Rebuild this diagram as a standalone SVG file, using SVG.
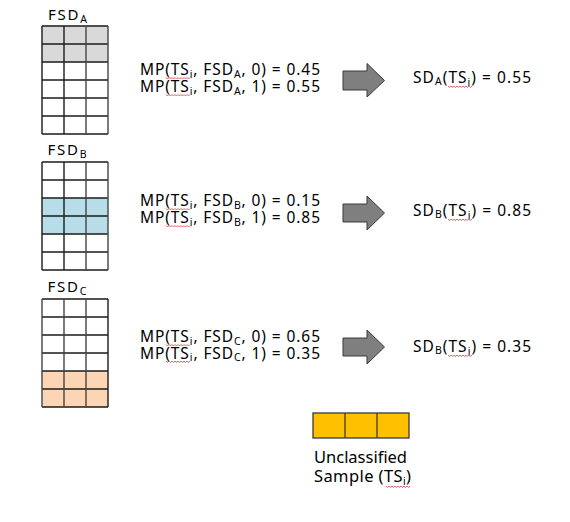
<svg xmlns="http://www.w3.org/2000/svg" width="570" height="522" viewBox="0 0 570 522">
<style>
text{font-family:"Noto Sans","Liberation Sans",sans-serif;fill:#000}
.mp{font-size:15.5px}
.lab{font-size:15px}
.big{font-size:16.5px}
.sub{font-size:10.5px}
.cell{stroke:#1a1a1a;stroke-width:1.4}
.vl{stroke:#444;stroke-width:1.4}
.arrow{fill:#7f7f7f;stroke:#3a3a3a;stroke-width:1}
.sq{fill:none;stroke:#e03a3a;stroke-width:0.8}
</style>
<defs>
<path id="wave" d="M0,0 l1.5,1.5 l1.5,-1.5 l1.5,1.5 l1.5,-1.5 l1.5,1.5 l1.5,-1.5 l1.5,1.5 l1.5,-1.5 l1.5,1.5 l1.5,-1.5 l1.5,1.5 l1.5,-1.5 l1.5,1.5 l1.5,-1.5 l1.5,1.5 l1.5,-1.5"/>
</defs>
<rect width="570" height="522" fill="#fff"/>

<g id="fsd-a">
<text class="lab" x="48" y="19.5" textLength="39">FSD<tspan class="sub" dy="3">A</tspan></text>
<rect x="42" y="26" width="66" height="36" fill="#d9d9d9"/>
<g class="cell">
<line x1="42" y1="26" x2="108" y2="26"/><line x1="42" y1="44" x2="108" y2="44"/><line x1="42" y1="62" x2="108" y2="62"/><line x1="42" y1="80" x2="108" y2="80"/><line x1="42" y1="98" x2="108" y2="98"/><line x1="42" y1="116" x2="108" y2="116"/><line x1="42" y1="134" x2="108" y2="134"/>
<line x1="42" y1="26" x2="42" y2="134"/><line x1="64" y1="26" x2="64" y2="134"/>
</g>
<g class="vl"><line x1="86" y1="26" x2="86" y2="134"/><line x1="108" y1="26" x2="108" y2="134"/></g>
</g>

<g id="fsd-b">
<text class="lab" x="47.5" y="155" textLength="39">FSD<tspan class="sub" dy="3">B</tspan></text>
<rect x="42" y="198" width="66" height="36" fill="#b7dde8"/>
<g class="cell">
<line x1="42" y1="162" x2="108" y2="162"/><line x1="42" y1="180" x2="108" y2="180"/><line x1="42" y1="198" x2="108" y2="198"/><line x1="42" y1="216" x2="108" y2="216"/><line x1="42" y1="234" x2="108" y2="234"/><line x1="42" y1="252" x2="108" y2="252"/><line x1="42" y1="270" x2="108" y2="270"/>
<line x1="42" y1="162" x2="42" y2="270"/><line x1="64" y1="162" x2="64" y2="270"/>
</g>
<g class="vl"><line x1="86" y1="162" x2="86" y2="270"/><line x1="108" y1="162" x2="108" y2="270"/></g>
</g>

<g id="fsd-c">
<text class="lab" x="47.5" y="292" textLength="39">FSD<tspan class="sub" dy="3">C</tspan></text>
<rect x="42" y="371" width="66" height="36" fill="#fcd5b5"/>
<g class="cell">
<line x1="42" y1="299" x2="108" y2="299"/><line x1="42" y1="317" x2="108" y2="317"/><line x1="42" y1="335" x2="108" y2="335"/><line x1="42" y1="353" x2="108" y2="353"/><line x1="42" y1="371" x2="108" y2="371"/><line x1="42" y1="389" x2="108" y2="389"/><line x1="42" y1="407" x2="108" y2="407"/>
<line x1="108" y1="299" x2="108" y2="407"/>
</g>
<g class="vl"><line x1="42" y1="299" x2="42" y2="407"/><line x1="64" y1="299" x2="64" y2="407"/><line x1="86" y1="299" x2="86" y2="407"/></g>
</g>

<g id="mp-a">
<text class="mp" x="140" y="75" textLength="180">MP(TS<tspan class="sub" dy="2.5">i</tspan><tspan dy="-2.5">, FSD</tspan><tspan class="sub" dy="2.5">A</tspan><tspan dy="-2.5">, 0) = 0.45</tspan></text>
<text class="mp" x="140" y="92" textLength="180">MP(TS<tspan class="sub" dy="2.5">i</tspan><tspan dy="-2.5">, FSD</tspan><tspan class="sub" dy="2.5">A</tspan><tspan dy="-2.5">, 1) = 0.55</tspan></text>
<use href="#wave" class="sq" x="166" y="77.5"/><use href="#wave" class="sq" x="166" y="94.5"/>
</g>
<g id="mp-b">
<text class="mp" x="140" y="206" textLength="180">MP(TS<tspan class="sub" dy="2.5">i</tspan><tspan dy="-2.5">, FSD</tspan><tspan class="sub" dy="2.5">B</tspan><tspan dy="-2.5">, 0) = 0.15</tspan></text>
<text class="mp" x="140" y="223" textLength="180">MP(TS<tspan class="sub" dy="2.5">i</tspan><tspan dy="-2.5">, FSD</tspan><tspan class="sub" dy="2.5">B</tspan><tspan dy="-2.5">, 1) = 0.85</tspan></text>
<use href="#wave" class="sq" x="166" y="208.5"/><use href="#wave" class="sq" x="166" y="225.5"/>
</g>
<g id="mp-c">
<text class="mp" x="140" y="342" textLength="180">MP(TS<tspan class="sub" dy="2.5">i</tspan><tspan dy="-2.5">, FSD</tspan><tspan class="sub" dy="2.5">C</tspan><tspan dy="-2.5">, 0) = 0.65</tspan></text>
<text class="mp" x="140" y="358.5" textLength="180">MP(TS<tspan class="sub" dy="2.5">i</tspan><tspan dy="-2.5">, FSD</tspan><tspan class="sub" dy="2.5">C</tspan><tspan dy="-2.5">, 1) = 0.35</tspan></text>
<use href="#wave" class="sq" x="166" y="344.5"/><use href="#wave" class="sq" x="166" y="361"/>
</g>

<g id="connectors">
<polygon class="arrow" points="343,71 367,71 367,63.5 384.5,80.5 367,97 367,90 343,90"/>
<polygon class="arrow" points="343,204 367,204 367,196 384.5,213 367,230 367,222 343,222"/>
<polygon class="arrow" points="343,338 367,338 367,330 384.5,347 367,364 367,356 343,356"/>
</g>

<g id="sd-a"><text class="mp" x="413" y="83" textLength="118">SD<tspan class="sub" dy="2">A</tspan><tspan dy="-2">(TS</tspan><tspan class="sub" dy="2.5">i</tspan><tspan dy="-2.5">) = 0.55</tspan></text>
<use href="#wave" class="sq" x="448" y="86"/></g>
<g id="sd-b"><text class="mp" x="413" y="216" textLength="118">SD<tspan class="sub" dy="2">B</tspan><tspan dy="-2">(TS</tspan><tspan class="sub" dy="2.5">i</tspan><tspan dy="-2.5">) = 0.85</tspan></text>
<use href="#wave" class="sq" x="448" y="219"/></g>
<g id="sd-c"><text class="mp" x="413" y="352" textLength="118">SD<tspan class="sub" dy="2">B</tspan><tspan dy="-2">(TS</tspan><tspan class="sub" dy="2.5">i</tspan><tspan dy="-2.5">) = 0.35</tspan></text>
<use href="#wave" class="sq" x="448" y="355"/></g>

<g id="unclassified">
<rect x="313" y="413" width="96" height="25" fill="#ffc000" stroke="#3a3a3a" stroke-width="1.3"/>
<line x1="345" y1="413" x2="345" y2="438" stroke="#3a3a3a" stroke-width="1.3"/>
<line x1="377" y1="413" x2="377" y2="438" stroke="#3a3a3a" stroke-width="1.3"/>
<text class="big" x="314" y="463" textLength="93">Unclassified</text>
<text class="big" x="314" y="482" textLength="97">Sample (TS<tspan class="sub" dy="3">i</tspan><tspan dy="-3">)</tspan></text>
<use href="#wave" class="sq" x="386" y="486"/>
</g>
</svg>
